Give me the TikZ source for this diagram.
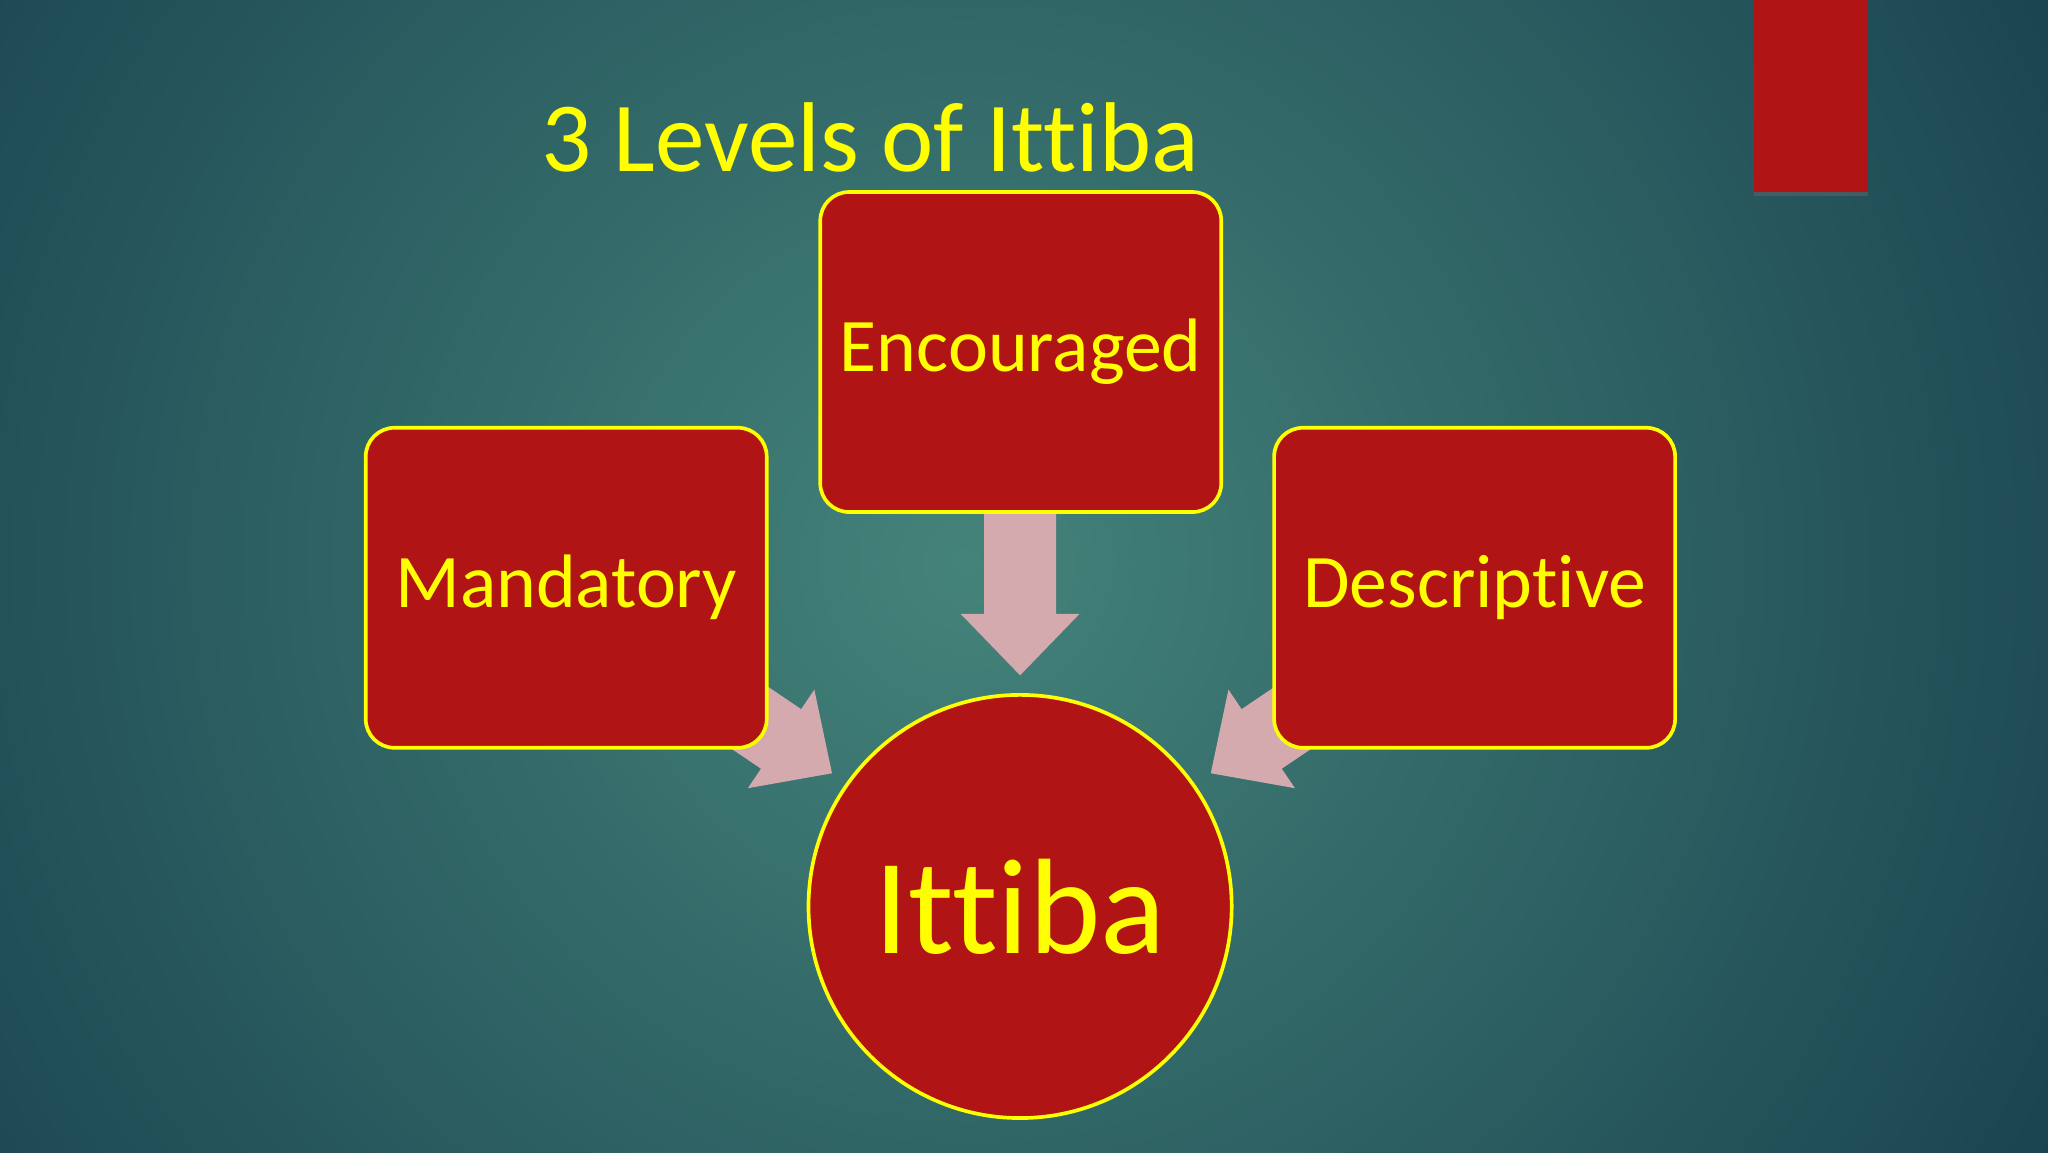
\documentclass[tikz,border=0pt]{standalone}
\usepackage{fontspec}
\setmainfont[Ligatures={NoCommon}]{Carlito}
\definecolor{bgdark}{HTML}{1A4450}
\definecolor{bglight}{HTML}{44837A}
\definecolor{boxred}{HTML}{B01414}
\definecolor{txtyel}{HTML}{FFFF00}
\definecolor{arrpink}{HTML}{D5AAAF}
\tikzset{
  levelbox/.style={draw=txtyel, line width=0.8pt, fill=boxred, rounded corners=0.22cm,
    minimum width=3.07cm, minimum height=2.45cm, text=txtyel, font=\fontsize{16.5}{20}\selectfont, inner sep=0pt},
  blockarrow/.style={fill=arrpink},
}
\begin{document}
\begin{tikzpicture}
\useasboundingbox (0,-8.82) rectangle (15.68,0);
\begin{scope}
\clip (0,-8.82) rectangle (15.68,0);
\fill[bgdark] (0,-8.82) rectangle (15.68,0);
\shade[inner color=bglight, outer color=bgdark] (7.4,-4.3) circle (9.5);
\end{scope}
% top-right red bar
\fill[black!60, opacity=0.5] (13.43,-1.47) rectangle (14.30,-1.50);
\fill[boxred] (13.43,0) rectangle (14.30,-1.47);
% title
\node[text=txtyel, font=\fontsize{21.6}{26}\selectfont, anchor=base] (title) at (6.66,-1.31) {3 Levels of Ittiba};
% arrows
\foreach \tx/\ty/\ang in {7.81/-5.17/-90, 6.37/-5.92/-34, 9.27/-5.92/214}{
  \begin{scope}[shift={(\tx,\ty)}, rotate=\ang]
  \fill[blockarrow] (0,0) -- (-0.47,0.455) -- (-0.47,0.275) -- (-1.3,0.275) -- (-1.3,-0.275) -- (-0.47,-0.275) -- (-0.47,-0.455) -- cycle;
  \end{scope}
}
% boxes
\node[levelbox] (enc) at (7.815,-2.695) {Encouraged};
\node[levelbox] (man) at (4.335,-4.50) {Mandatory};
\node[levelbox] (des) at (11.29,-4.50) {Descriptive};
% circle
\node[circle, draw=txtyel, line width=0.8pt, fill=boxred, minimum size=3.24cm, text=txtyel,
  font=\fontsize{29.6}{34}\selectfont, inner sep=0pt] (itt) at (7.81,-6.94) {Ittiba};
\end{tikzpicture}
\end{document}
